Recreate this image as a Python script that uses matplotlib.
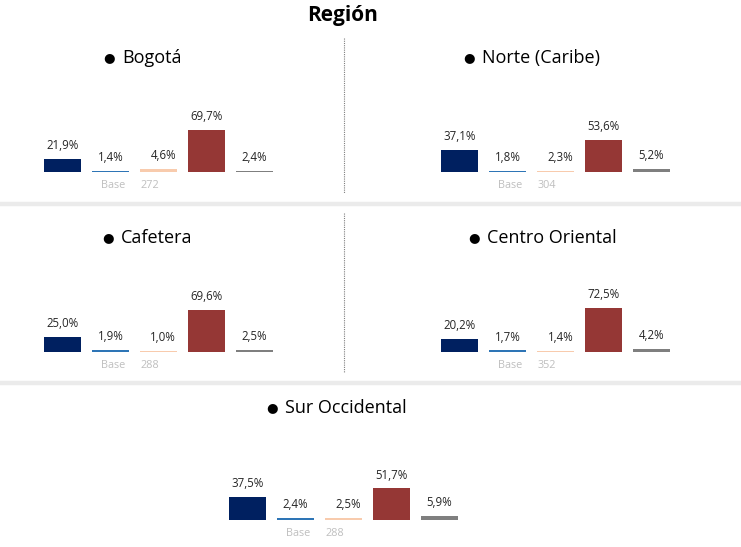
import matplotlib
matplotlib.use("Agg")
import matplotlib.pyplot as plt
from matplotlib.lines import Line2D

# ---- data ----
regions = ["Bogotá", "Norte (Caribe)", "Cafetera", "Centro Oriental", "Sur Occidental"]
bogota = [21.9, 1.4, 4.6, 69.7, 2.4]
norte = [37.1, 1.8, 2.3, 53.6, 5.2]
cafetera = [25.0, 1.9, 1.0, 69.6, 2.5]
centro_oriental = [20.2, 1.7, 1.4, 72.5, 4.2]
sur_occidental = [37.5, 2.4, 2.5, 51.7, 5.9]
bases = [272, 304, 288, 352, 288]
series_values = [bogota, norte, cafetera, centro_oriental, sur_occidental]

colors = ["#002060", "#2E75B6", "#F8CBAD", "#953735", "#7F7F7F"]

W, H = 741, 547
fig = plt.figure(figsize=(W / 100, H / 100), dpi=100)
fig.patch.set_facecolor("white")

FONT = ["Open Sans", "DejaVu Sans"]

def fx(x):
    return x / W

def fy(y):
    return 1 - y / H

# title
fig.text(fx(343), fy(15), "Región", ha="center", va="center", fontsize=15,
         fontweight="bold", family=FONT, color="black")

# separators
for y in (204, 383):
    fig.add_artist(Line2D([0, 1], [fy(y), fy(y)], color="#EBEBEB", lw=3.2,
                          transform=fig.transFigure))
for y0, y1 in ((38, 193), (213, 373)):
    fig.add_artist(Line2D([fx(344), fx(344)], [fy(y0), fy(y1)], color="#7F7F7F",
                          lw=0.8, ls=(0, (1, 1)), transform=fig.transFigure))

# layout (pixels): first bar center, baseline, title text start x, title y
layout = [
    (62.5, 172, 122, 58),
    (459.5, 172, 481.5, 58),
    (62.5, 351.5, 121, 238),
    (459.5, 351.5, 487, 238),
    (247.5, 519.5, 285, 408),
]

step = 48.0
barw = 37.0 / step
axh = 60.0

for name, vals, base, (c1, baseline, tx, ty) in zip(regions, series_values, bases, layout):
    left = c1 - step / 2
    ax = fig.add_axes([fx(left), (H - baseline) / H, 5 * step / W, axh / H])
    ax.set_xlim(-0.5, 4.5)
    ax.set_ylim(0, 100)
    ax.axis("off")
    xs = list(range(len(vals)))
    ax.bar(xs, vals, width=barw, color=colors, linewidth=0)
    for i, v in enumerate(vals):
        dx = 3.5 if i == 2 else 0
        ax.annotate(f"{v:.1f}%".replace(".", ","), (i, v), xytext=(dx, 5),
                    textcoords="offset points", ha="center", va="bottom",
                    fontsize=8.3, family=FONT, color="#262626", annotation_clip=False)
    ax.annotate("Base", (1, 0), xytext=(2, -10), textcoords="offset points",
                ha="center", va="center", fontsize=7.8, family=FONT, color="#BFBFBF",
                annotation_clip=False)
    ax.annotate(str(base), (2, 0), xytext=(-6, -10), textcoords="offset points",
                ha="center", va="center", fontsize=7.8, family=FONT, color="#BFBFBF",
                annotation_clip=False)
    fig.text(fx(tx - 13), fy(ty), "●", ha="center", va="center", fontsize=9.5,
             family="DejaVu Sans", color="black")
    fig.text(fx(tx), fy(ty), name, ha="left", va="center", fontsize=13,
             family=FONT, color="black")

fig.savefig("out.png", dpi=100, facecolor="white")
